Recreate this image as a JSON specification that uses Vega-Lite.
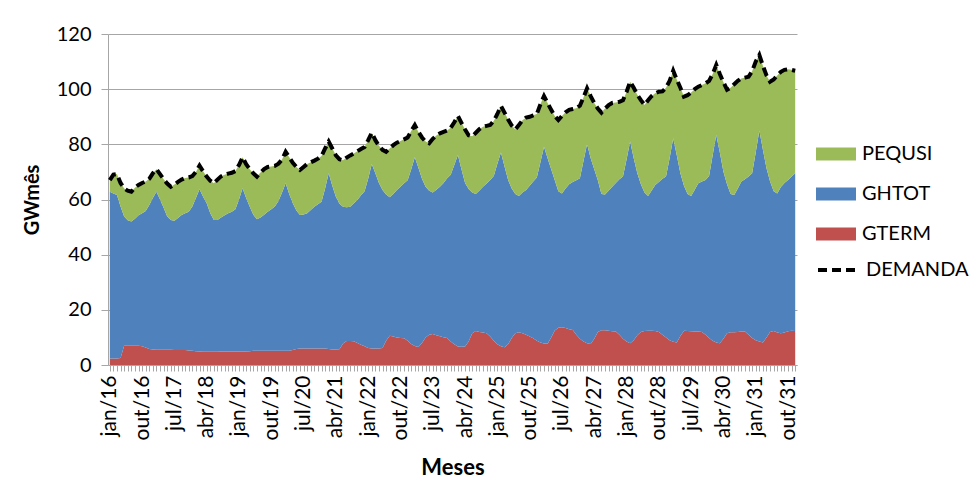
{
"$schema": "https://vega.github.io/schema/vega-lite/v6.json",
"width": 689, "height": 331,
"autosize": {"type": "none"},
"padding": {"left": 108, "top": 34, "right": 180, "bottom": 128},
"background": "white",
"config": {"view": {"stroke": null}, "font": "Lato"},
"data": {"values": [
{"mes":"jan/16","GTERM":2.4,"GHTOT":60.4,"PEQUSI":4.2,"DEMANDA":67.0},
{"mes":"fev/16","GTERM":2.4,"GHTOT":59.8,"PEQUSI":6.8,"DEMANDA":69.0},
{"mes":"mar/16","GTERM":2.4,"GHTOT":59.2,"PEQUSI":7.6,"DEMANDA":69.2},
{"mes":"abr/16","GTERM":2.5,"GHTOT":55.0,"PEQUSI":8.5,"DEMANDA":66.0},
{"mes":"mai/16","GTERM":7.0,"GHTOT":46.8,"PEQUSI":10.2,"DEMANDA":64.0},
{"mes":"jun/16","GTERM":7.0,"GHTOT":45.5,"PEQUSI":10.7,"DEMANDA":63.2},
{"mes":"jul/16","GTERM":7.0,"GHTOT":45.0,"PEQUSI":10.8,"DEMANDA":62.8},
{"mes":"ago/16","GTERM":7.0,"GHTOT":46.0,"PEQUSI":11.3,"DEMANDA":64.3},
{"mes":"set/16","GTERM":7.0,"GHTOT":47.3,"PEQUSI":11.0,"DEMANDA":65.3},
{"mes":"out/16","GTERM":6.8,"GHTOT":48.2,"PEQUSI":11.0,"DEMANDA":66.0},
{"mes":"nov/16","GTERM":6.3,"GHTOT":49.5,"PEQUSI":10.7,"DEMANDA":66.5},
{"mes":"dez/16","GTERM":5.8,"GHTOT":52.2,"PEQUSI":9.5,"DEMANDA":67.5},
{"mes":"jan/17","GTERM":5.6,"GHTOT":54.9,"PEQUSI":9.0,"DEMANDA":69.5},
{"mes":"fev/17","GTERM":5.5,"GHTOT":57.3,"PEQUSI":8.2,"DEMANDA":71.0},
{"mes":"mar/17","GTERM":5.5,"GHTOT":54.5,"PEQUSI":9.2,"DEMANDA":69.2},
{"mes":"abr/17","GTERM":5.5,"GHTOT":51.5,"PEQUSI":10.3,"DEMANDA":67.3},
{"mes":"mai/17","GTERM":5.5,"GHTOT":48.3,"PEQUSI":12.0,"DEMANDA":65.8},
{"mes":"jun/17","GTERM":5.5,"GHTOT":47.1,"PEQUSI":12.0,"DEMANDA":64.6},
{"mes":"jul/17","GTERM":5.4,"GHTOT":46.9,"PEQUSI":13.1,"DEMANDA":65.4},
{"mes":"ago/17","GTERM":5.4,"GHTOT":47.9,"PEQUSI":13.1,"DEMANDA":66.4},
{"mes":"set/17","GTERM":5.4,"GHTOT":49.0,"PEQUSI":12.8,"DEMANDA":67.2},
{"mes":"out/17","GTERM":5.4,"GHTOT":49.6,"PEQUSI":12.8,"DEMANDA":67.8},
{"mes":"nov/17","GTERM":5.3,"GHTOT":50.3,"PEQUSI":12.4,"DEMANDA":68.0},
{"mes":"dez/17","GTERM":5.2,"GHTOT":52.3,"PEQUSI":11.0,"DEMANDA":68.5},
{"mes":"jan/18","GTERM":5.0,"GHTOT":55.5,"PEQUSI":9.5,"DEMANDA":70.0},
{"mes":"fev/18","GTERM":4.9,"GHTOT":58.8,"PEQUSI":8.6,"DEMANDA":72.3},
{"mes":"mar/18","GTERM":4.8,"GHTOT":56.2,"PEQUSI":9.2,"DEMANDA":70.2},
{"mes":"abr/18","GTERM":4.8,"GHTOT":53.8,"PEQUSI":9.7,"DEMANDA":68.3},
{"mes":"mai/18","GTERM":4.8,"GHTOT":50.2,"PEQUSI":11.8,"DEMANDA":66.8},
{"mes":"jun/18","GTERM":4.8,"GHTOT":47.8,"PEQUSI":13.3,"DEMANDA":65.9},
{"mes":"jul/18","GTERM":4.8,"GHTOT":47.8,"PEQUSI":14.6,"DEMANDA":67.2},
{"mes":"ago/18","GTERM":4.9,"GHTOT":48.6,"PEQUSI":14.9,"DEMANDA":68.4},
{"mes":"set/18","GTERM":4.9,"GHTOT":49.4,"PEQUSI":14.7,"DEMANDA":69.0},
{"mes":"out/18","GTERM":4.9,"GHTOT":50.1,"PEQUSI":14.4,"DEMANDA":69.4},
{"mes":"nov/18","GTERM":4.9,"GHTOT":50.7,"PEQUSI":14.1,"DEMANDA":69.7},
{"mes":"dez/18","GTERM":4.9,"GHTOT":51.6,"PEQUSI":13.8,"DEMANDA":70.3},
{"mes":"jan/19","GTERM":4.9,"GHTOT":55.1,"PEQUSI":12.5,"DEMANDA":72.5},
{"mes":"fev/19","GTERM":4.9,"GHTOT":59.2,"PEQUSI":11.2,"DEMANDA":75.3},
{"mes":"mar/19","GTERM":4.9,"GHTOT":55.6,"PEQUSI":12.3,"DEMANDA":72.8},
{"mes":"abr/19","GTERM":5.0,"GHTOT":52.4,"PEQUSI":13.6,"DEMANDA":71.0},
{"mes":"mai/19","GTERM":5.2,"GHTOT":49.3,"PEQUSI":15.0,"DEMANDA":69.5},
{"mes":"jun/19","GTERM":5.2,"GHTOT":47.6,"PEQUSI":15.5,"DEMANDA":68.3},
{"mes":"jul/19","GTERM":5.2,"GHTOT":48.3,"PEQUSI":16.3,"DEMANDA":69.8},
{"mes":"ago/19","GTERM":5.2,"GHTOT":49.3,"PEQUSI":16.5,"DEMANDA":71.0},
{"mes":"set/19","GTERM":5.2,"GHTOT":50.4,"PEQUSI":16.2,"DEMANDA":71.8},
{"mes":"out/19","GTERM":5.2,"GHTOT":51.3,"PEQUSI":15.5,"DEMANDA":72.0},
{"mes":"nov/19","GTERM":5.2,"GHTOT":52.3,"PEQUSI":14.7,"DEMANDA":72.2},
{"mes":"dez/19","GTERM":5.2,"GHTOT":54.3,"PEQUSI":13.5,"DEMANDA":73.0},
{"mes":"jan/20","GTERM":5.2,"GHTOT":57.3,"PEQUSI":12.0,"DEMANDA":74.5},
{"mes":"fev/20","GTERM":5.2,"GHTOT":60.7,"PEQUSI":11.4,"DEMANDA":77.3},
{"mes":"mar/20","GTERM":5.2,"GHTOT":56.8,"PEQUSI":13.3,"DEMANDA":75.3},
{"mes":"abr/20","GTERM":5.4,"GHTOT":53.2,"PEQUSI":14.7,"DEMANDA":73.3},
{"mes":"mai/20","GTERM":5.8,"GHTOT":50.2,"PEQUSI":15.8,"DEMANDA":71.8},
{"mes":"jun/20","GTERM":6.0,"GHTOT":48.4,"PEQUSI":16.3,"DEMANDA":70.7},
{"mes":"jul/20","GTERM":6.0,"GHTOT":48.6,"PEQUSI":17.2,"DEMANDA":71.8},
{"mes":"ago/20","GTERM":6.0,"GHTOT":49.0,"PEQUSI":17.9,"DEMANDA":72.9},
{"mes":"set/20","GTERM":6.0,"GHTOT":50.2,"PEQUSI":17.3,"DEMANDA":73.5},
{"mes":"out/20","GTERM":6.0,"GHTOT":51.4,"PEQUSI":16.7,"DEMANDA":74.1},
{"mes":"nov/20","GTERM":6.0,"GHTOT":52.3,"PEQUSI":16.5,"DEMANDA":74.8},
{"mes":"dez/20","GTERM":6.0,"GHTOT":53.2,"PEQUSI":16.6,"DEMANDA":75.8},
{"mes":"jan/21","GTERM":6.0,"GHTOT":58.0,"PEQUSI":14.5,"DEMANDA":78.5},
{"mes":"fev/21","GTERM":5.8,"GHTOT":63.7,"PEQUSI":11.5,"DEMANDA":81.0},
{"mes":"mar/21","GTERM":5.6,"GHTOT":59.4,"PEQUSI":13.5,"DEMANDA":78.5},
{"mes":"abr/21","GTERM":5.6,"GHTOT":55.4,"PEQUSI":15.0,"DEMANDA":76.0},
{"mes":"mai/21","GTERM":5.7,"GHTOT":52.8,"PEQUSI":16.1,"DEMANDA":74.6},
{"mes":"jun/21","GTERM":7.8,"GHTOT":49.6,"PEQUSI":16.8,"DEMANDA":74.2},
{"mes":"jul/21","GTERM":8.7,"GHTOT":48.5,"PEQUSI":18.0,"DEMANDA":75.2},
{"mes":"ago/21","GTERM":8.7,"GHTOT":48.7,"PEQUSI":18.6,"DEMANDA":76.0},
{"mes":"set/21","GTERM":8.6,"GHTOT":50.0,"PEQUSI":18.1,"DEMANDA":76.7},
{"mes":"out/21","GTERM":8.0,"GHTOT":51.8,"PEQUSI":17.7,"DEMANDA":77.5},
{"mes":"nov/21","GTERM":7.3,"GHTOT":54.2,"PEQUSI":16.8,"DEMANDA":78.3},
{"mes":"dez/21","GTERM":6.8,"GHTOT":56.2,"PEQUSI":16.0,"DEMANDA":79.0},
{"mes":"jan/22","GTERM":6.2,"GHTOT":61.3,"PEQUSI":14.0,"DEMANDA":81.5},
{"mes":"fev/22","GTERM":6.0,"GHTOT":66.9,"PEQUSI":11.3,"DEMANDA":84.2},
{"mes":"mar/22","GTERM":6.0,"GHTOT":63.5,"PEQUSI":12.0,"DEMANDA":81.5},
{"mes":"abr/22","GTERM":6.0,"GHTOT":60.0,"PEQUSI":13.5,"DEMANDA":79.5},
{"mes":"mai/22","GTERM":6.2,"GHTOT":57.2,"PEQUSI":14.6,"DEMANDA":78.0},
{"mes":"jun/22","GTERM":8.8,"GHTOT":53.0,"PEQUSI":15.5,"DEMANDA":77.3},
{"mes":"jul/22","GTERM":10.6,"GHTOT":50.2,"PEQUSI":17.7,"DEMANDA":78.5},
{"mes":"ago/22","GTERM":10.3,"GHTOT":51.7,"PEQUSI":17.7,"DEMANDA":79.7},
{"mes":"set/22","GTERM":10.0,"GHTOT":53.4,"PEQUSI":17.2,"DEMANDA":80.6},
{"mes":"out/22","GTERM":9.8,"GHTOT":54.8,"PEQUSI":16.6,"DEMANDA":81.2},
{"mes":"nov/22","GTERM":9.7,"GHTOT":56.2,"PEQUSI":15.9,"DEMANDA":81.8},
{"mes":"dez/22","GTERM":8.8,"GHTOT":58.2,"PEQUSI":15.5,"DEMANDA":82.5},
{"mes":"jan/23","GTERM":7.6,"GHTOT":63.4,"PEQUSI":13.8,"DEMANDA":84.8},
{"mes":"fev/23","GTERM":6.9,"GHTOT":68.4,"PEQUSI":11.7,"DEMANDA":87.0},
{"mes":"mar/23","GTERM":6.5,"GHTOT":65.0,"PEQUSI":13.0,"DEMANDA":84.5},
{"mes":"abr/23","GTERM":8.0,"GHTOT":59.5,"PEQUSI":15.0,"DEMANDA":82.5},
{"mes":"mai/23","GTERM":10.0,"GHTOT":54.6,"PEQUSI":16.4,"DEMANDA":81.0},
{"mes":"jun/23","GTERM":11.0,"GHTOT":52.2,"PEQUSI":17.2,"DEMANDA":80.4},
{"mes":"jul/23","GTERM":11.2,"GHTOT":51.3,"PEQUSI":19.5,"DEMANDA":82.0},
{"mes":"ago/23","GTERM":10.8,"GHTOT":52.7,"PEQUSI":19.7,"DEMANDA":83.2},
{"mes":"set/23","GTERM":10.4,"GHTOT":54.2,"PEQUSI":19.4,"DEMANDA":84.0},
{"mes":"out/23","GTERM":10.1,"GHTOT":55.9,"PEQUSI":18.5,"DEMANDA":84.5},
{"mes":"nov/23","GTERM":9.8,"GHTOT":57.9,"PEQUSI":17.3,"DEMANDA":85.0},
{"mes":"dez/23","GTERM":8.5,"GHTOT":60.5,"PEQUSI":17.0,"DEMANDA":86.0},
{"mes":"jan/24","GTERM":7.5,"GHTOT":65.0,"PEQUSI":15.5,"DEMANDA":88.0},
{"mes":"fev/24","GTERM":6.7,"GHTOT":69.4,"PEQUSI":14.2,"DEMANDA":90.3},
{"mes":"mar/24","GTERM":6.6,"GHTOT":64.4,"PEQUSI":16.8,"DEMANDA":87.8},
{"mes":"abr/24","GTERM":6.7,"GHTOT":59.3,"PEQUSI":19.4,"DEMANDA":85.4},
{"mes":"mai/24","GTERM":8.5,"GHTOT":55.3,"PEQUSI":19.5,"DEMANDA":83.3},
{"mes":"jun/24","GTERM":11.5,"GHTOT":51.0,"PEQUSI":20.4,"DEMANDA":82.9},
{"mes":"jul/24","GTERM":12.3,"GHTOT":49.7,"PEQUSI":22.2,"DEMANDA":84.2},
{"mes":"ago/24","GTERM":12.0,"GHTOT":51.3,"PEQUSI":22.2,"DEMANDA":85.5},
{"mes":"set/24","GTERM":11.8,"GHTOT":52.8,"PEQUSI":21.8,"DEMANDA":86.4},
{"mes":"out/24","GTERM":11.5,"GHTOT":54.3,"PEQUSI":20.9,"DEMANDA":86.7},
{"mes":"nov/24","GTERM":10.3,"GHTOT":56.8,"PEQUSI":19.9,"DEMANDA":87.0},
{"mes":"dez/24","GTERM":8.8,"GHTOT":59.7,"PEQUSI":20.0,"DEMANDA":88.5},
{"mes":"jan/25","GTERM":7.5,"GHTOT":65.5,"PEQUSI":18.0,"DEMANDA":91.0},
{"mes":"fev/25","GTERM":6.8,"GHTOT":70.2,"PEQUSI":16.9,"DEMANDA":93.9},
{"mes":"mar/25","GTERM":6.4,"GHTOT":65.6,"PEQUSI":19.5,"DEMANDA":91.5},
{"mes":"abr/25","GTERM":7.5,"GHTOT":59.6,"PEQUSI":21.9,"DEMANDA":89.0},
{"mes":"mai/25","GTERM":9.8,"GHTOT":54.2,"PEQUSI":22.8,"DEMANDA":86.8},
{"mes":"jun/25","GTERM":11.5,"GHTOT":50.5,"PEQUSI":23.4,"DEMANDA":85.4},
{"mes":"jul/25","GTERM":11.9,"GHTOT":49.4,"PEQUSI":25.7,"DEMANDA":87.0},
{"mes":"ago/25","GTERM":11.5,"GHTOT":51.0,"PEQUSI":26.2,"DEMANDA":88.7},
{"mes":"set/25","GTERM":11.0,"GHTOT":52.4,"PEQUSI":26.3,"DEMANDA":89.7},
{"mes":"out/25","GTERM":10.3,"GHTOT":54.7,"PEQUSI":25.0,"DEMANDA":90.0},
{"mes":"nov/25","GTERM":9.7,"GHTOT":56.8,"PEQUSI":24.0,"DEMANDA":90.5},
{"mes":"dez/25","GTERM":8.8,"GHTOT":59.2,"PEQUSI":23.0,"DEMANDA":91.0},
{"mes":"jan/26","GTERM":8.2,"GHTOT":65.3,"PEQUSI":21.0,"DEMANDA":94.5},
{"mes":"fev/26","GTERM":7.8,"GHTOT":71.3,"PEQUSI":18.4,"DEMANDA":97.5},
{"mes":"mar/26","GTERM":7.7,"GHTOT":67.3,"PEQUSI":20.0,"DEMANDA":95.0},
{"mes":"abr/26","GTERM":10.0,"GHTOT":61.0,"PEQUSI":21.5,"DEMANDA":92.5},
{"mes":"mai/26","GTERM":12.5,"GHTOT":54.5,"PEQUSI":23.3,"DEMANDA":90.3},
{"mes":"jun/26","GTERM":13.5,"GHTOT":49.5,"PEQUSI":25.8,"DEMANDA":88.8},
{"mes":"jul/26","GTERM":13.7,"GHTOT":48.5,"PEQUSI":28.1,"DEMANDA":90.3},
{"mes":"ago/26","GTERM":13.4,"GHTOT":50.6,"PEQUSI":27.6,"DEMANDA":91.6},
{"mes":"set/26","GTERM":13.0,"GHTOT":52.5,"PEQUSI":27.0,"DEMANDA":92.5},
{"mes":"out/26","GTERM":12.7,"GHTOT":53.6,"PEQUSI":26.5,"DEMANDA":92.8},
{"mes":"nov/26","GTERM":11.0,"GHTOT":56.0,"PEQUSI":26.1,"DEMANDA":93.1},
{"mes":"dez/26","GTERM":9.5,"GHTOT":58.2,"PEQUSI":26.3,"DEMANDA":94.0},
{"mes":"jan/27","GTERM":8.5,"GHTOT":65.5,"PEQUSI":23.0,"DEMANDA":97.0},
{"mes":"fev/27","GTERM":7.9,"GHTOT":72.2,"PEQUSI":20.2,"DEMANDA":100.3},
{"mes":"mar/27","GTERM":7.6,"GHTOT":67.4,"PEQUSI":22.5,"DEMANDA":97.5},
{"mes":"abr/27","GTERM":9.5,"GHTOT":61.5,"PEQUSI":24.0,"DEMANDA":95.0},
{"mes":"mai/27","GTERM":12.0,"GHTOT":55.0,"PEQUSI":26.0,"DEMANDA":93.0},
{"mes":"jun/27","GTERM":12.6,"GHTOT":49.4,"PEQUSI":29.5,"DEMANDA":91.5},
{"mes":"jul/27","GTERM":12.6,"GHTOT":49.2,"PEQUSI":31.2,"DEMANDA":93.0},
{"mes":"ago/27","GTERM":12.4,"GHTOT":50.8,"PEQUSI":31.0,"DEMANDA":94.2},
{"mes":"set/27","GTERM":12.2,"GHTOT":52.4,"PEQUSI":30.4,"DEMANDA":95.0},
{"mes":"out/27","GTERM":12.1,"GHTOT":53.9,"PEQUSI":29.2,"DEMANDA":95.2},
{"mes":"nov/27","GTERM":11.0,"GHTOT":56.3,"PEQUSI":28.1,"DEMANDA":95.4},
{"mes":"dez/27","GTERM":9.5,"GHTOT":58.8,"PEQUSI":27.7,"DEMANDA":96.0},
{"mes":"jan/28","GTERM":8.5,"GHTOT":66.0,"PEQUSI":24.5,"DEMANDA":99.0},
{"mes":"fev/28","GTERM":7.9,"GHTOT":73.1,"PEQUSI":21.7,"DEMANDA":102.7},
{"mes":"mar/28","GTERM":9.0,"GHTOT":66.0,"PEQUSI":25.5,"DEMANDA":100.5},
{"mes":"abr/28","GTERM":10.8,"GHTOT":58.7,"PEQUSI":28.5,"DEMANDA":98.0},
{"mes":"mai/28","GTERM":12.0,"GHTOT":53.5,"PEQUSI":30.5,"DEMANDA":96.0},
{"mes":"jun/28","GTERM":12.3,"GHTOT":50.2,"PEQUSI":31.8,"DEMANDA":94.3},
{"mes":"jul/28","GTERM":12.4,"GHTOT":48.9,"PEQUSI":34.7,"DEMANDA":96.0},
{"mes":"ago/28","GTERM":12.4,"GHTOT":50.9,"PEQUSI":34.2,"DEMANDA":97.5},
{"mes":"set/28","GTERM":12.3,"GHTOT":53.0,"PEQUSI":33.2,"DEMANDA":98.5},
{"mes":"out/28","GTERM":12.0,"GHTOT":54.3,"PEQUSI":32.8,"DEMANDA":99.1},
{"mes":"nov/28","GTERM":11.0,"GHTOT":56.5,"PEQUSI":31.7,"DEMANDA":99.2},
{"mes":"dez/28","GTERM":10.0,"GHTOT":58.3,"PEQUSI":32.2,"DEMANDA":100.5},
{"mes":"jan/29","GTERM":9.0,"GHTOT":66.0,"PEQUSI":28.0,"DEMANDA":103.0},
{"mes":"fev/29","GTERM":8.4,"GHTOT":73.8,"PEQUSI":24.5,"DEMANDA":106.7},
{"mes":"mar/29","GTERM":8.2,"GHTOT":67.8,"PEQUSI":27.5,"DEMANDA":103.5},
{"mes":"abr/29","GTERM":10.5,"GHTOT":59.0,"PEQUSI":31.0,"DEMANDA":100.5},
{"mes":"mai/29","GTERM":12.4,"GHTOT":52.6,"PEQUSI":32.3,"DEMANDA":97.3},
{"mes":"jun/29","GTERM":12.3,"GHTOT":49.7,"PEQUSI":35.8,"DEMANDA":97.8},
{"mes":"jul/29","GTERM":12.2,"GHTOT":49.1,"PEQUSI":37.5,"DEMANDA":98.8},
{"mes":"ago/29","GTERM":12.1,"GHTOT":51.4,"PEQUSI":36.5,"DEMANDA":100.0},
{"mes":"set/29","GTERM":12.1,"GHTOT":53.8,"PEQUSI":35.0,"DEMANDA":100.9},
{"mes":"out/29","GTERM":12.0,"GHTOT":54.5,"PEQUSI":35.0,"DEMANDA":101.5},
{"mes":"nov/29","GTERM":11.0,"GHTOT":56.1,"PEQUSI":35.0,"DEMANDA":102.1},
{"mes":"dez/29","GTERM":9.8,"GHTOT":58.7,"PEQUSI":34.5,"DEMANDA":103.0},
{"mes":"jan/30","GTERM":8.8,"GHTOT":67.2,"PEQUSI":29.5,"DEMANDA":105.5},
{"mes":"fev/30","GTERM":8.2,"GHTOT":75.2,"PEQUSI":25.4,"DEMANDA":108.8},
{"mes":"mar/30","GTERM":7.9,"GHTOT":69.1,"PEQUSI":28.5,"DEMANDA":105.5},
{"mes":"abr/30","GTERM":9.5,"GHTOT":60.6,"PEQUSI":32.4,"DEMANDA":102.5},
{"mes":"mai/30","GTERM":11.5,"GHTOT":54.0,"PEQUSI":34.3,"DEMANDA":99.8},
{"mes":"jun/30","GTERM":11.9,"GHTOT":50.1,"PEQUSI":38.5,"DEMANDA":100.5},
{"mes":"jul/30","GTERM":11.9,"GHTOT":49.7,"PEQUSI":40.2,"DEMANDA":101.8},
{"mes":"ago/30","GTERM":12.0,"GHTOT":52.0,"PEQUSI":39.0,"DEMANDA":103.0},
{"mes":"set/30","GTERM":12.1,"GHTOT":54.4,"PEQUSI":37.4,"DEMANDA":103.9},
{"mes":"out/30","GTERM":12.1,"GHTOT":55.2,"PEQUSI":36.9,"DEMANDA":104.2},
{"mes":"nov/30","GTERM":11.0,"GHTOT":57.3,"PEQUSI":36.2,"DEMANDA":104.5},
{"mes":"dez/30","GTERM":9.8,"GHTOT":59.7,"PEQUSI":37.0,"DEMANDA":106.5},
{"mes":"jan/31","GTERM":9.0,"GHTOT":68.0,"PEQUSI":33.0,"DEMANDA":110.0},
{"mes":"fev/31","GTERM":8.5,"GHTOT":76.5,"PEQUSI":27.4,"DEMANDA":112.4},
{"mes":"mar/31","GTERM":8.2,"GHTOT":69.8,"PEQUSI":30.5,"DEMANDA":108.5},
{"mes":"abr/31","GTERM":10.0,"GHTOT":61.3,"PEQUSI":33.7,"DEMANDA":105.0},
{"mes":"mai/31","GTERM":12.0,"GHTOT":54.5,"PEQUSI":36.2,"DEMANDA":102.7},
{"mes":"jun/31","GTERM":12.3,"GHTOT":50.7,"PEQUSI":40.5,"DEMANDA":103.5},
{"mes":"jul/31","GTERM":11.8,"GHTOT":50.4,"PEQUSI":42.8,"DEMANDA":105.0},
{"mes":"ago/31","GTERM":11.5,"GHTOT":53.0,"PEQUSI":41.8,"DEMANDA":106.3},
{"mes":"set/31","GTERM":11.8,"GHTOT":54.2,"PEQUSI":41.0,"DEMANDA":107.0},
{"mes":"out/31","GTERM":12.2,"GHTOT":54.9,"PEQUSI":40.1,"DEMANDA":107.2},
{"mes":"nov/31","GTERM":12.4,"GHTOT":55.9,"PEQUSI":38.7,"DEMANDA":107.0},
{"mes":"dez/31","GTERM":12.3,"GHTOT":57.2,"PEQUSI":37.2,"DEMANDA":106.7}
]},
"encoding": {
  "x": {"field": "mes", "type": "ordinal", "sort": null,
    "scale": {"type": "point", "padding": 0.5},
    "axis": {"title": "Meses", "titleFontSize": 22, "titleFontWeight": "bold", "titleColor": "#000", "titlePadding": 18,
      "labelAngle": 270, "labelFontSize": 21, "labelColor": "#000", "labelPadding": 4, "labelOverlap": false,
      "labelExpr": "indexof(['jan/16','out/16','jul/17','abr/18','jan/19','out/19','jul/20','abr/21','jan/22','out/22','jul/23','abr/24','jan/25','out/25','jul/26','abr/27','jan/28','out/28','jul/29','abr/30','jan/31','out/31'], datum.value) >= 0 ? datum.value : ''",
      "domainColor": "#a6a6a6", "tickColor": "#a6a6a6", "tickSize": 6, "grid": false}}
},
"layer": [
  {"transform": [
     {"fold": ["GTERM", "GHTOT", "PEQUSI"], "as": ["serie", "valor"]},
     {"calculate": "indexof(['GTERM','GHTOT','PEQUSI'], datum.serie)", "as": "ordem"}
   ],
   "mark": {"type": "area", "opacity": 1},
   "encoding": {
     "y": {"field": "valor", "type": "quantitative", "stack": "zero",
       "scale": {"domain": [0, 120]},
       "axis": {"title": "GWmês", "titleFontSize": 20, "titleFontWeight": "bold", "titleColor": "#000", "titlePadding": 14,
         "values": [0, 20, 40, 60, 80, 100, 120], "labelFontSize": 20, "labelColor": "#000", "labelPadding": 10,
         "grid": true, "gridColor": "#a6a6a6", "domainColor": "#a6a6a6", "tickColor": "#a6a6a6", "tickSize": 7}},
     "order": {"field": "ordem", "type": "quantitative", "sort": "ascending"},
     "color": {"field": "serie", "type": "nominal",
       "scale": {"domain": ["PEQUSI", "GHTOT", "GTERM"], "range": ["#9BBB59", "#4F81BD", "#C0504D"]},
       "legend": {"title": null, "orient": "none", "legendX": 708, "legendY": 100,
         "symbolType": "M-1,-0.33H1V0.33H-1Z", "symbolSize": 1600, "symbolStrokeWidth": 0,
         "labelFontSize": 20, "labelColor": "#000", "labelOffset": 6, "rowPadding": 10, "padding": 0}}
   }},
  {"mark": {"type": "line", "color": "#000", "strokeWidth": 4, "strokeDash": [9, 5]},
   "encoding": {
     "y": {"field": "DEMANDA", "type": "quantitative"},
     "strokeDash": {"datum": "DEMANDA", "scale": {"domain": ["DEMANDA"], "range": [[9, 5]]},
       "legend": {"title": null, "orient": "none", "legendX": 708, "legendY": 214,
         "symbolType": "stroke", "symbolSize": 1600, "symbolStrokeColor": "#000", "symbolStrokeWidth": 4,
         "labelFontSize": 20, "labelColor": "#000", "labelOffset": 6, "padding": 0}}
   }}
]
}
